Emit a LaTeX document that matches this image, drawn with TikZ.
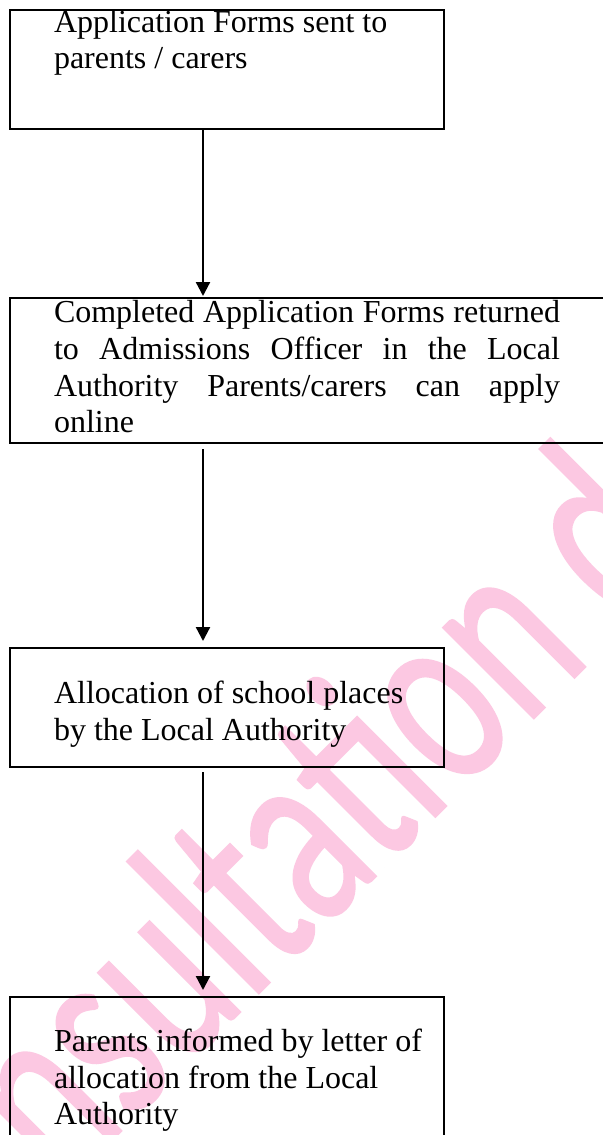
\documentclass[tikz,border=0pt]{standalone}
\usepackage{fontspec}
\setmainfont{Liberation Serif}
\newfontfamily\wmfont[FakeBold=0.8]{Carlito}
\usetikzlibrary{fit,arrows.meta}
\definecolor{wmpink}{RGB}{252,200,226}
\begin{document}
\begin{tikzpicture}[x=0.75pt,y=-0.75pt,
  box/.style={draw=black, line width=1.2pt, inner sep=0pt, outer sep=0pt},
  arr/.style={draw=black, line width=1.7pt, -{Triangle[width=10.5pt,length=10.5pt]}},
  txt/.style={anchor=base west, inner sep=0pt, outer sep=0pt, font=\fontsize{24pt}{27.75pt}\selectfont},
  wm/.style={anchor=base west, inner sep=0pt, outer sep=0pt, text=wmpink, rotate=45, yscale=1.45, font=\wmfont\fontsize{138.75pt}{140pt}\selectfont}]
\clip (0,0) rectangle (603,1135);
\fill[white] (0,0) rectangle (603,1135);
% watermark
\node[wm] (wmark) at (-78,1330) {Consultation draft};
% boxes
\node[box, fit={(10,10) (444,129)}] (b1) {};
\node[box, fit={(10,298) (615,443)}] (b2) {};
\node[box, fit={(10,648) (444,767)}] (b3) {};
\node[box, fit={(10,997) (444,1150)}] (b4) {};
% texts
\node[txt] (t11) at (54,32) {Application Forms sent to};
\node[txt] (t12) at (54,68) {parents / carers};
\node[txt] (t21) at (54,322) {\makebox[379.5pt][s]{Completed Application Forms returned}};
\node[txt] (t22) at (54,359) {\makebox[379.5pt][s]{to Admissions Officer in the Local}};
\node[txt] (t23) at (54,396) {\makebox[379.5pt][s]{Authority Parents/carers can apply}};
\node[txt] (t24) at (54,432) {online};
\node[txt] (t31) at (54,703) {Allocation of school places};
\node[txt] (t32) at (54,740) {by the Local Authority};
\node[txt] (t41) at (54,1051) {Parents informed by letter of};
\node[txt] (t42) at (54,1088) {allocation from the Local};
\node[txt] (t43) at (54,1124) {Authority};
% connectors
\coordinate (ax) at (203,0);
\draw[arr] (b1.south -| ax) -- ([yshift=1.5pt]b2.north -| ax);
\draw[arr] ([yshift=-4.5pt]b2.south -| ax) -- ([yshift=5.25pt]b3.north -| ax);
\draw[arr] ([yshift=-3.75pt]b3.south -| ax) -- ([yshift=5.25pt]b4.north -| ax);
\end{tikzpicture}
\end{document}
